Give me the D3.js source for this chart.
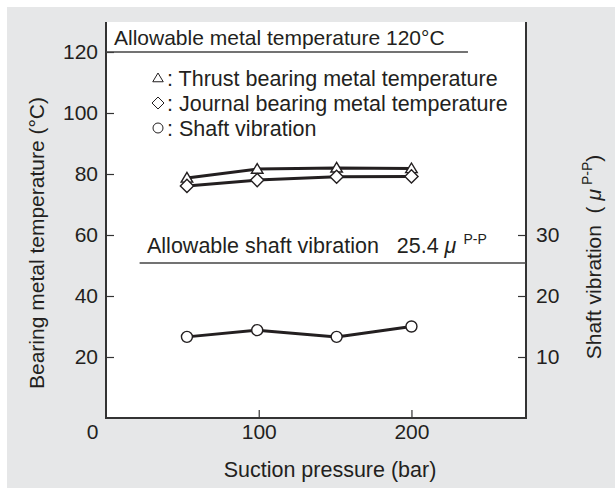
<!DOCTYPE html>
<html>
<head>
<meta charset="utf-8">
<script src="https://cdn.jsdelivr.net/npm/d3@7"></script>
<style>
  body { margin: 0; background: #fff; }
  svg { display: block; font-family: 'Liberation Sans', Arial, sans-serif; }
  .eixo path { display: none; }
  .eixo line { stroke: #333; stroke-width: 1.2; }
  .eixo text { font-size: 21px; fill: #231f20; }
</style>
</head>
<body>
<svg id="grafico"></svg>
<script>
// pressao de succao (bar) e leituras
const pressoes = [53, 99, 151, 200];
const tempEscora = [78.7, 81.6, 82.0, 81.8];
const tempRadial = [76.1, 78.0, 79.1, 79.2];
const vibracao = [13.3, 14.4, 13.3, 15.0];

const ticksTemp = [20, 40, 60, 80, 100, 120];
const ticksVib = [10, 20, 30];
const ticksPressao = [0, 100, 200];

const limiteTemp = 120;
const limiteTempX = [0, 237];
const limiteVib = 25.4;
const limiteVibX = [22, 275];

const legenda = [
  { simbolo: 'triangulo', texto: ': Thrust bearing metal temperature' },
  { simbolo: 'losango', texto: ': Journal bearing metal temperature' },
  { simbolo: 'circulo', texto: ': Shaft vibration' }
];

const largura = 615, altura = 490;
const margem = { esquerda: 106, direita: 89, superior: 22, inferior: 72 };
const tinta = '#231f20';

const svg = d3.select('#grafico').attr('width', largura).attr('height', altura);

// fundo cinza e area branca
svg.append('rect').attr('x', 7).attr('y', 7).attr('width', largura - 7).attr('height', 481).attr('fill', '#e6e7e8');

const larguraPlotagem = largura - margem.esquerda - margem.direita;
const alturaPlotagem = altura - margem.superior - margem.inferior;

const plotagem = svg.append('g').attr('transform', `translate(${margem.esquerda}, ${margem.superior})`);
plotagem.append('rect').attr('width', larguraPlotagem).attr('height', alturaPlotagem).attr('fill', '#fff');

const x = d3.scaleLinear().domain([0, 275]).range([0, larguraPlotagem]);
const y = d3.scaleLinear().domain([0, 130]).range([alturaPlotagem, -0.5]);
const yVib = d3.scaleLinear().domain([0, 65]).range([alturaPlotagem, -0.5]);

const eixoX = d3.axisBottom(x).tickValues(ticksPressao).tickSize(-8).tickPadding(6);
const eixoY = d3.axisLeft(y).tickValues(ticksTemp).tickSize(-8).tickPadding(8);
const eixoYVib = d3.axisRight(yVib).tickValues(ticksVib).tickSize(-8).tickPadding(10);

const gX = plotagem.append('g').classed('eixo', true).attr('transform', `translate(0, ${alturaPlotagem})`).call(eixoX);
gX.selectAll('.tick').filter(d => d === 0).select('line').remove();
gX.selectAll('.tick').filter(d => d === 0).select('text').attr('dx', -14);

plotagem.append('g').classed('eixo', true).call(eixoY);
plotagem.append('g').classed('eixo', true).attr('transform', `translate(${larguraPlotagem}, 0)`).call(eixoYVib);

// molduras: esquerda, base e direita
plotagem.append('path')
  .attr('d', `M0,0V${alturaPlotagem}H${larguraPlotagem}V0`)
  .attr('fill', 'none')
  .attr('stroke', '#333')
  .attr('stroke-width', 2);

// limites admissiveis
plotagem.append('line')
  .attr('x1', x(limiteTempX[0])).attr('x2', x(limiteTempX[1]))
  .attr('y1', y(limiteTemp)).attr('y2', y(limiteTemp))
  .attr('stroke', '#444').attr('stroke-width', 1.5);

plotagem.append('text')
  .attr('x', 8).attr('y', y(limiteTemp) - 7)
  .attr('font-size', 21).attr('fill', tinta)
  .text('Allowable metal temperature 120°C');

plotagem.append('line')
  .attr('x1', x(limiteVibX[0])).attr('x2', x(limiteVibX[1]))
  .attr('y1', yVib(limiteVib)).attr('y2', yVib(limiteVib))
  .attr('stroke', '#444').attr('stroke-width', 1.5);

const rotuloVib = plotagem.append('text')
  .attr('x', 41).attr('y', yVib(limiteVib) - 10)
  .attr('font-size', 21.5).attr('fill', tinta)
  .attr('xml:space', 'preserve');
rotuloVib.append('tspan').text('Allowable shaft vibration   25.4 ');
rotuloVib.append('tspan').attr('font-style', 'italic').text('μ');
rotuloVib.append('tspan').attr('font-size', 14).attr('dx', 7).attr('dy', -9).text('P-P');

// series
const linha = d3.line().x(d => x(d[0])).y(d => d[1]);

const series = [
  { valores: tempEscora, escala: y, simbolo: 'triangulo' },
  { valores: tempRadial, escala: y, simbolo: 'losango' },
  { valores: vibracao, escala: yVib, simbolo: 'circulo' }
];

function desenhaSimbolo(g, simbolo, tamanho, espessura) {
  if (simbolo === 'triangulo') {
    const r = tamanho;
    g.append('path').attr('d', `M0,${-r}L${r * 1.05},${r * 0.75}H${-r * 1.05}Z`);
  } else if (simbolo === 'losango') {
    const r = tamanho * 1.2;
    g.append('path').attr('d', `M0,${-r}L${r},0L0,${r}L${-r},0Z`);
  } else {
    g.append('circle').attr('r', tamanho);
  }
  g.selectAll('path, circle').attr('fill', '#fff').attr('stroke', tinta).attr('stroke-width', espessura);
}

series.forEach(s => {
  const pontos = pressoes.map((p, i) => [p, s.escala(s.valores[i])]);
  plotagem.append('path')
    .datum(pontos)
    .attr('d', linha)
    .attr('fill', 'none')
    .attr('stroke', tinta)
    .attr('stroke-width', 3);

  plotagem.selectAll(null)
    .data(pontos)
    .enter()
    .append('g')
    .attr('transform', d => `translate(${x(d[0])}, ${d[1]})`)
    .each(function () { desenhaSimbolo(d3.select(this), s.simbolo, 5.5, 1.4); });
});

// legenda
const gLegenda = plotagem.append('g').attr('transform', 'translate(52, 56)');
legenda.forEach((item, i) => {
  const linhaLegenda = gLegenda.append('g').attr('transform', `translate(0, ${i * 25})`);
  desenhaSimbolo(linhaLegenda.append('g'), item.simbolo, 5, 1);
  linhaLegenda.append('text')
    .attr('x', 9).attr('y', 7.5)
    .attr('font-size', 21.5).attr('fill', tinta)
    .text(item.texto);
});

// titulos dos eixos
svg.append('text')
  .attr('x', 330).attr('y', 477)
  .style('text-anchor', 'middle')
  .attr('font-size', 21.5).attr('fill', tinta)
  .text('Suction pressure (bar)');

svg.append('text')
  .attr('transform', 'translate(44, 243) rotate(-90)')
  .style('text-anchor', 'middle')
  .attr('font-size', 21).attr('fill', tinta)
  .text('Bearing metal temperature (°C)');

const tituloVib = svg.append('text')
  .attr('transform', 'translate(601, 257) rotate(-90)')
  .style('text-anchor', 'middle')
  .attr('font-size', 21).attr('fill', tinta)
  .attr('xml:space', 'preserve');
tituloVib.append('tspan').text('Shaft vibration  ( ');
tituloVib.append('tspan').attr('font-style', 'italic').text('μ');
tituloVib.append('tspan').attr('font-size', 14).attr('dx', 4).attr('dy', -9).text('P-P');
tituloVib.append('tspan').attr('dy', 9).text(')');
</script>
</body>
</html>
